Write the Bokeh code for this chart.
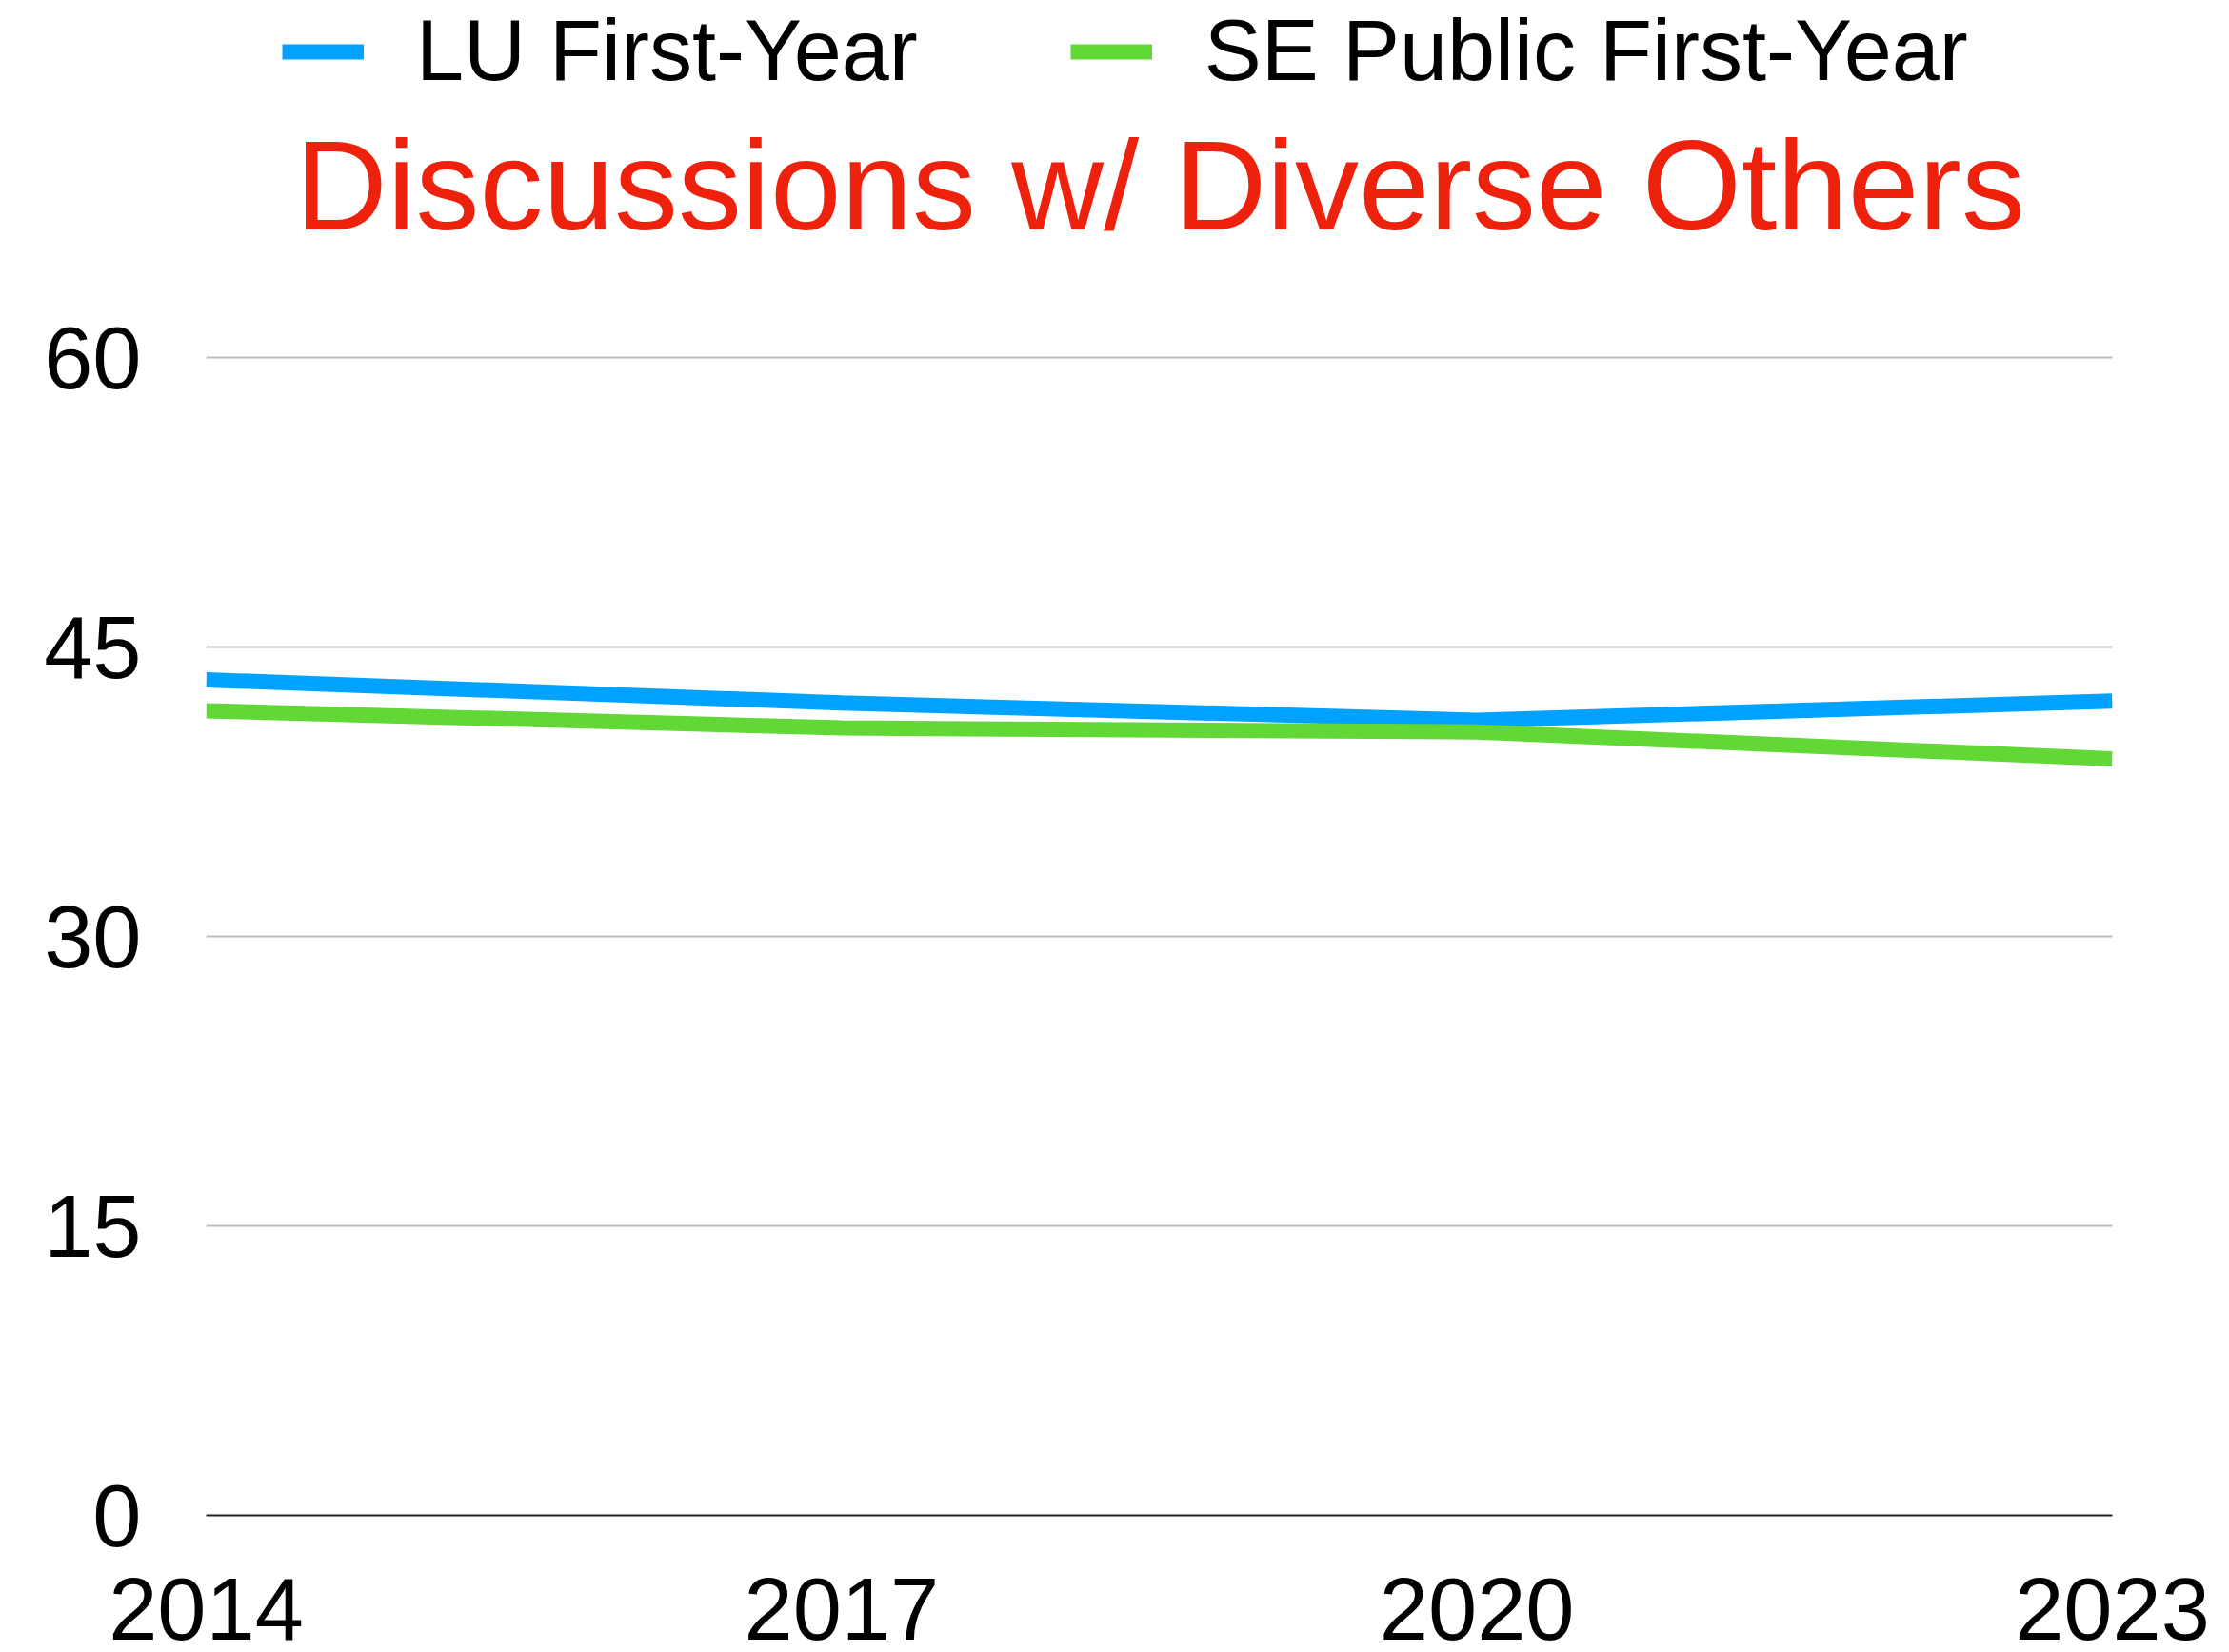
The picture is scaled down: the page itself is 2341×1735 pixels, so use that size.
from bokeh.plotting import figure
from bokeh.models import Range1d, FixedTicker, Legend, LegendItem, Label
from bokeh.embed import file_html
from bokeh.resources import INLINE

years = [2014, 2017, 2020, 2023]
lu_first_year = [43.3, 42.1, 41.2, 42.2]
se_public_first_year = [41.7, 40.8, 40.6, 39.2]
y_ticks = [0, 15, 30, 45, 60]
title_text = "Discussions w/ Diverse Others"
series_names = ["LU First-Year", "SE Public First-Year"]

FONT = "Liberation Sans"
BLUE = "#00A2FF"
GREEN = "#61D836"
RED = "#EE220C"

# frame spans the full height down to the x axis; 60 sits 375px from top
FRAME_TOP_PX = 0
ZERO_PX = 1591
SIXTY_PX = 375
y_top = 60 * (ZERO_PX - FRAME_TOP_PX) / (ZERO_PX - SIXTY_PX)

p = figure(width=2341, height=1735, output_backend="svg", toolbar_location=None,
           x_range=Range1d(2014, 2023), y_range=Range1d(0, y_top),
           min_border_left=216, min_border_right=123, min_border_top=0, min_border_bottom=144)
p.outline_line_color = None
p.background_fill_color = "white"
p.border_fill_color = "white"

r1 = p.line(years, lu_first_year, line_color=BLUE, line_width=16)
r2 = p.line(years, se_public_first_year, line_color=GREEN, line_width=16)

p.xaxis.ticker = FixedTicker(ticks=years)
p.yaxis.ticker = FixedTicker(ticks=y_ticks)
p.xaxis.major_tick_line_color = None
p.xaxis.minor_tick_line_color = None
p.yaxis.major_tick_line_color = None
p.yaxis.minor_tick_line_color = None
p.yaxis.axis_line_color = None
p.xaxis.axis_line_color = "#222222"
p.xaxis.axis_line_width = 2
p.xaxis.major_label_text_font = FONT
p.yaxis.major_label_text_font = FONT
p.xaxis.major_label_text_font_size = "92px"
p.yaxis.major_label_text_font_size = "92px"
p.xaxis.major_label_text_color = "black"
p.yaxis.major_label_text_color = "black"
p.xaxis.major_label_standoff = 60
p.yaxis.major_label_standoff = 62
p.xgrid.grid_line_color = None
p.ygrid.grid_line_color = "#BBBBBB"
p.ygrid.grid_line_width = 2

legend = Legend(items=[LegendItem(label=series_names[0], renderers=[r1]),
                       LegendItem(label=series_names[1], renderers=[r2])],
                orientation="horizontal", location=(80, 1486),
                glyph_width=86, glyph_height=60, label_standoff=55, spacing=160,
                padding=0, margin=0, border_line_color=None, background_fill_alpha=0,
                label_text_font=FONT, label_text_font_size="90px", label_text_color="black",
                label_height=60)
p.add_layout(legend, "center")

title = Label(x=1002, y=ZERO_PX - 194, x_units="screen", y_units="screen", text=title_text,
              text_font=FONT, text_font_size="134px", text_color=RED,
              text_align="center", text_baseline="alphabetic")
p.add_layout(title)

open("out.html", "w").write(file_html(p, INLINE))
